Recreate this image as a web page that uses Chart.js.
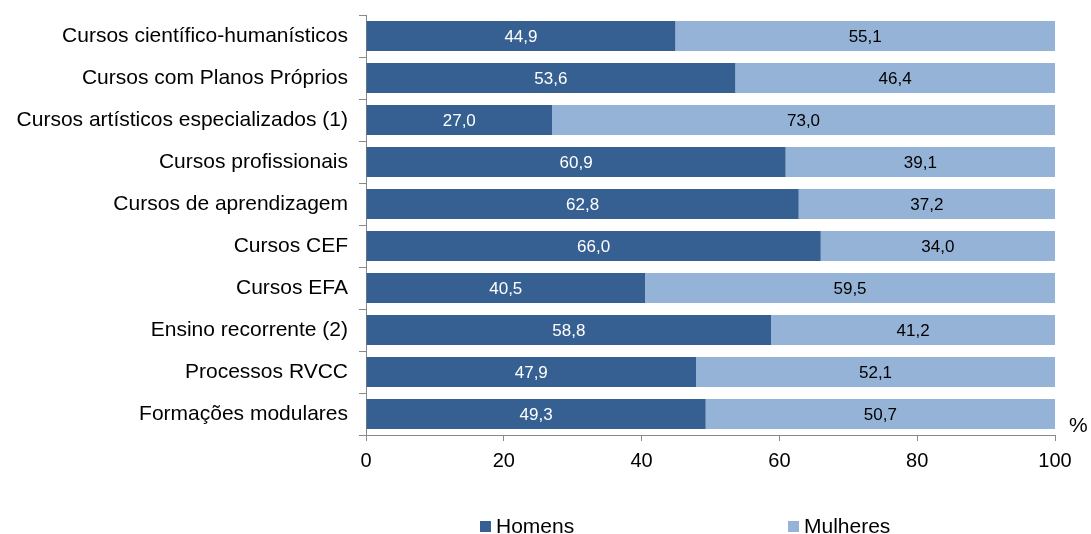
<!DOCTYPE html>
<html>
<head>
<meta charset="utf-8">
<script src="https://cdn.jsdelivr.net/npm/chart.js@4/dist/chart.umd.min.js"></script>
<style>
  html, body { margin: 0; padding: 0; background: #fff; }
  #wrap { width: 1091px; height: 534px; }
</style>
</head>
<body>
<div id="wrap"><canvas id="chart" width="1091" height="534"></canvas></div>
<script>
var categories = [
    "Cursos científico-humanísticos",
    "Cursos com Planos Próprios",
    "Cursos artísticos especializados (1)",
    "Cursos profissionais",
    "Cursos de aprendizagem",
    "Cursos CEF",
    "Cursos EFA",
    "Ensino recorrente (2)",
    "Processos RVCC",
    "Formações modulares"
];
var homens = [44.9, 53.6, 27.0, 60.9, 62.8, 66.0, 40.5, 58.8, 47.9, 49.3];
var mulheres = [55.1, 46.4, 73.0, 39.1, 37.2, 34.0, 59.5, 41.2, 52.1, 50.7];
var seriesNames = ["Homens", "Mulheres"];
var xTicks = [0, 20, 40, 60, 80, 100];

var fontFamily = "'Liberation Sans', Arial, sans-serif";
var axisColor = "#898989";

// value labels in the middle of each segment
var valueLabels = {
    id: "valueLabels",
    afterDatasetsDraw: function (chart) {
        var ctx = chart.ctx;
        ctx.save();
        ctx.font = "17px " + fontFamily;
        ctx.textAlign = "center";
        ctx.textBaseline = "middle";
        chart.data.datasets.forEach(function (ds, di) {
            var meta = chart.getDatasetMeta(di);
            ctx.fillStyle = di === 0 ? "#ffffff" : "#000000";
            meta.data.forEach(function (bar, i) {
                var cx = (bar.x + bar.base) / 2;
                ctx.fillText(ds.data[i].toFixed(1).replace(".", ","), cx, bar.y + 1);
            });
        });
        ctx.restore();
    }
};

// legend spread out like the original + the "%" unit
var extras = {
    id: "extras",
    afterDraw: function (chart) {
        var ctx = chart.ctx;
        ctx.save();
        ctx.font = "21px " + fontFamily;
        ctx.textBaseline = "middle";
        ctx.fillStyle = "#000";
        ctx.fillText("%", 1069, 426);

        var xs = [480, 788];
        chart.data.datasets.forEach(function (ds, di) {
            ctx.fillStyle = ds.backgroundColor;
            ctx.fillRect(xs[di], 521, 11, 11);
            ctx.fillStyle = "#000";
            ctx.fillText(ds.label, xs[di] + 16, 527);
        });
        ctx.restore();
    }
};

var ctx = document.getElementById("chart").getContext("2d");
var chart = new Chart(ctx, {
    type: "bar",
    data: {
        labels: categories,
        datasets: [{
            label: seriesNames[0],
            data: homens,
            backgroundColor: "#376092",
            barPercentage: 0.715,
            categoryPercentage: 1
        }, {
            label: seriesNames[1],
            data: mulheres,
            backgroundColor: "#95B3D7",
            barPercentage: 0.715,
            categoryPercentage: 1
        }]
    },
    options: {
        indexAxis: "y",
        responsive: false,
        animation: false,
        layout: { padding: { left: 0, right: 36, top: 15, bottom: 54 } },
        plugins: {
            legend: { display: false },
            tooltip: { enabled: false }
        },
        scales: {
            x: {
                stacked: true,
                min: 0,
                max: 100,
                afterBuildTicks: function (scale) {
                    scale.ticks = xTicks.map(function (v) { return { value: v }; });
                },
                afterFit: function (scale) { scale.height = 45; },
                grid: { drawOnChartArea: false, drawTicks: true, tickLength: 6, color: axisColor },
                border: { display: true, color: axisColor, width: 1 },
                ticks: { color: "#000", padding: 8, font: { size: 20, family: fontFamily } }
            },
            y: {
                stacked: true,
                afterFit: function (scale) {
                    scale.width = 366;
                    scale.paddingTop = 0;
                    scale.paddingBottom = 0;
                },
                grid: { drawOnChartArea: false, drawTicks: true, tickLength: 7, offset: true, color: axisColor },
                border: { display: true, color: axisColor, width: 1 },
                ticks: { color: "#000", padding: 11, font: { size: 21, family: fontFamily } }
            }
        }
    },
    plugins: [valueLabels, extras]
});
</script>
</body>
</html>
